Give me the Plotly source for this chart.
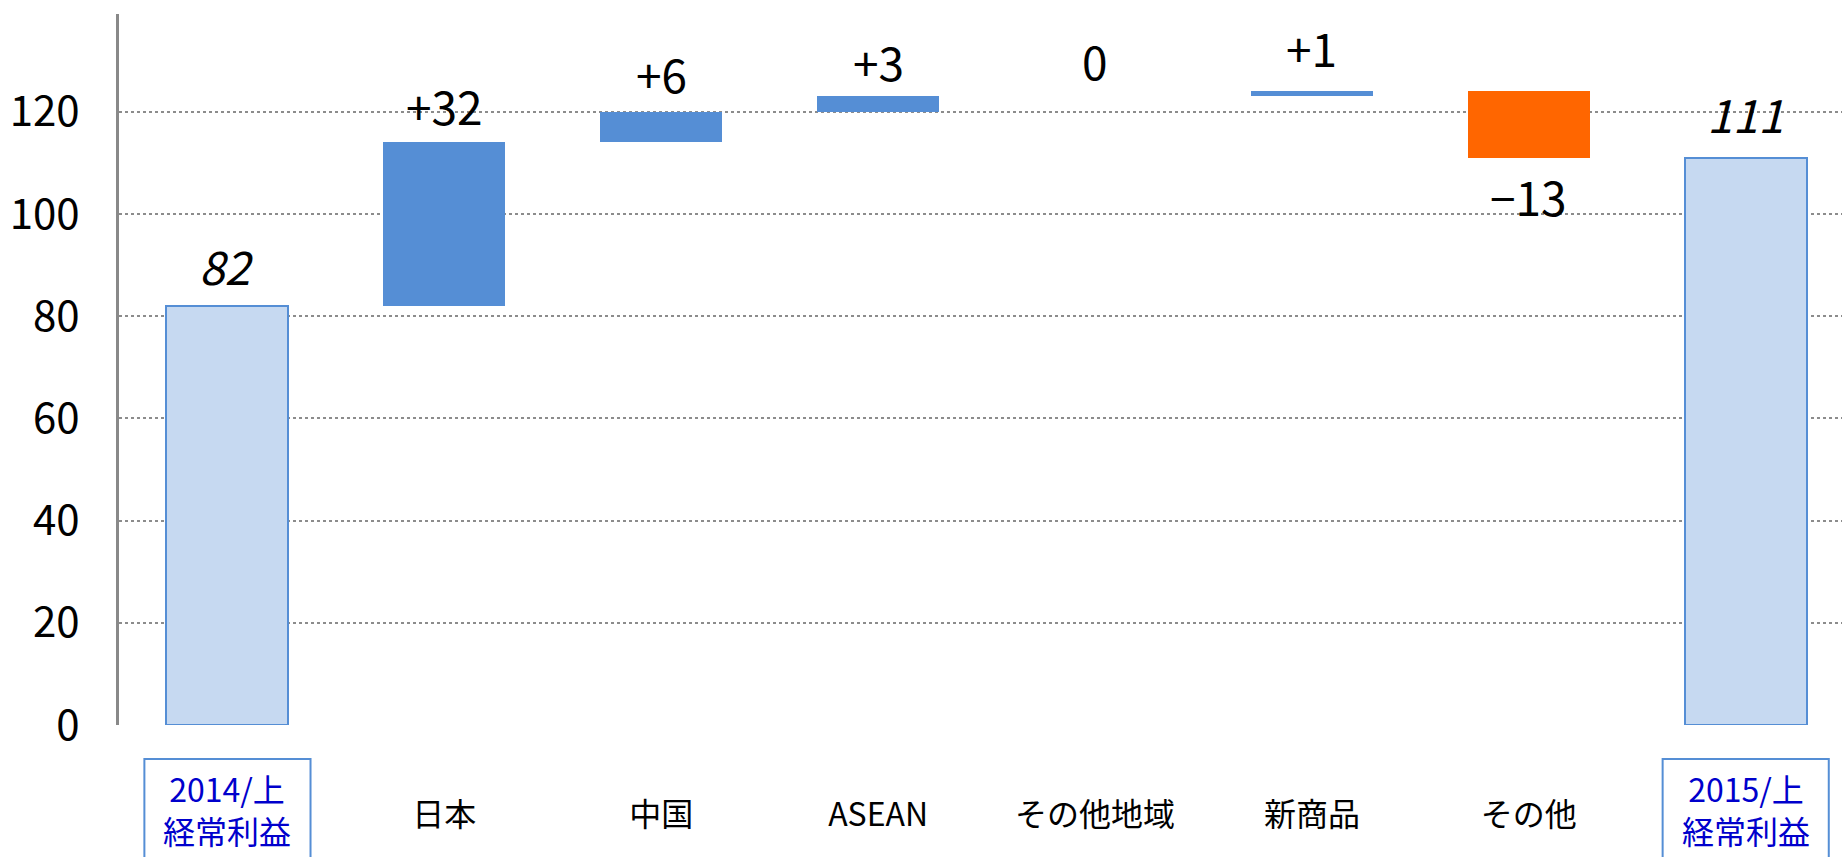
import plotly.graph_objects as go

# Ordinary profit bridge: first-half 2014 -> first-half 2015
categories = ["2014/上<br>経常利益", "日本", "中国", "ASEAN", "その他地域", "新商品", "その他", "2015/上<br>経常利益"]
start_total = 82
changes = [32, 6, 3, 0, 1, -13]
end_total = 111

FONT = "Noto Sans CJK JP"
TOTAL_FILL = "#C6D9F1"
EDGE_BLUE = "#558ED5"
UP_BLUE = "#558ED5"
DOWN_ORANGE = "#FF6600"
LABEL_BLUE = "#0000CC"

# floating bar geometry from the running total
x = list(range(len(categories)))
bases, heights, fills, line_w = [0], [start_total], [TOTAL_FILL], [2]
level = start_total
for d in changes:
    bases.append(level)
    heights.append(d)
    fills.append(UP_BLUE if d >= 0 else DOWN_ORANGE)
    line_w.append(0)
    level += d
bases.append(0)
heights.append(end_total)
fills.append(TOTAL_FILL)
line_w.append(2)

fig = go.Figure(go.Bar(
    x=x, y=heights, base=bases, width=0.5625,
    marker=dict(color=fills, line=dict(color=EDGE_BLUE, width=line_w)),
    hoverinfo="skip",
))

# value labels above (or below, for decreases) each bar
label_gap = [41, 37, 39, 35, 36, 44, -38, 45]
for i, (b, h) in enumerate(zip(bases, heights)):
    is_total = i in (0, len(categories) - 1)
    if is_total:
        txt = str(h)
    elif h == 0:
        txt = "0"
    else:
        txt = f"{h:+d}".replace("-", "−")
    edge = b + h
    fig.add_annotation(
        x=i, y=edge, xref="x", yref="y", text=txt, showarrow=False,
        yanchor="middle", yshift=label_gap[i],
        font=dict(family=FONT, size=46, color="black",
                  style="italic" if is_total else "normal"),
    )

# boxed labels for the two totals (box runs past the bottom edge)
plot_h = 857 - 14 - 132
for i in (0, len(categories) - 1):
    fig.add_shape(
        type="rect", xref="x", yref="paper",
        x0=i - 0.383, x1=i + 0.383, y0=-34 / plot_h, y1=-0.25,
        line=dict(color=EDGE_BLUE, width=2), fillcolor="rgba(0,0,0,0)",
    )
    fig.add_annotation(
        x=i, y=-84 / plot_h, xref="x", yref="paper",
        yanchor="middle", text=categories[i], showarrow=False,
        borderpad=0,
        font=dict(family=FONT, size=32, color=LABEL_BLUE),
    )

fig.update_layout(
    width=1842, height=857,
    margin=dict(l=119, r=0, t=14, b=132),
    paper_bgcolor="white", plot_bgcolor="white",
    showlegend=False,
    font=dict(family=FONT, color="black"),
    bargap=0,
)
fig.update_xaxes(
    range=[-0.5, 7.444], tickmode="array",
    tickvals=x[1:-1], ticktext=categories[1:-1],
    tickfont=dict(family=FONT, size=32, color="black"),
    showgrid=False, zeroline=False, showline=False, ticks="",
    ticklabelstandoff=68,
)
fig.update_yaxes(
    range=[0, 139.1], tickmode="array", tickvals=[0, 20, 40, 60, 80, 100, 120],
    tickfont=dict(family=FONT, size=42, color="black"),
    showgrid=True, gridcolor="#8C8C8C", gridwidth=1.5, griddash="dot",
    zeroline=False, showline=True, linecolor="#898989", linewidth=3,
    ticks="", ticklabelstandoff=28,
)

fig.write_html("out.html")
